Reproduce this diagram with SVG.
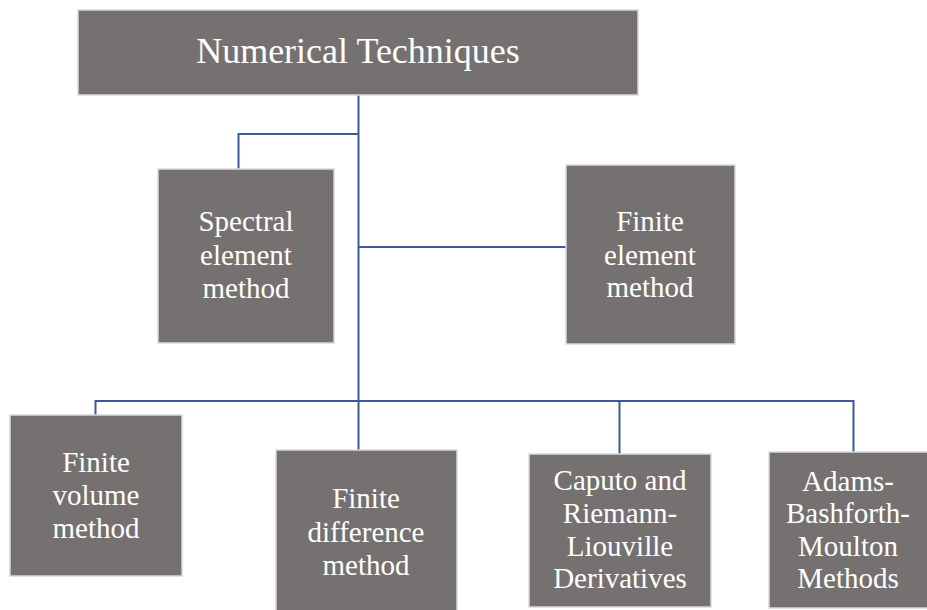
<svg xmlns="http://www.w3.org/2000/svg" width="927" height="610" viewBox="0 0 927 610">
<style>
.box{fill:#767171;stroke:#d9d9d9;stroke-width:1.5}
.t{font-family:"Liberation Serif","Times New Roman",serif;fill:#ffffff;text-anchor:middle;font-size:29px}
.title{font-size:36px}
.c{fill:none;stroke:#3a5b9b;stroke-width:2}
</style>
<rect width="927" height="610" fill="#ffffff"/>
<g id="connectors">
<path class="c" d="M358.5 95 V401"/>
<path class="c" d="M358.5 134 H238.5 V169"/>
<path class="c" d="M358.5 247 H566"/>
<path class="c" d="M95.5 415 V401 H853.5 V452"/>
<path class="c" d="M358.5 401 V450"/>
<path class="c" d="M619.5 401 V454"/>
</g>
<g id="n-root">
<rect class="box" x="78" y="10" width="560" height="85"/>
<text class="t title" x="358" y="63">Numerical Techniques</text>
</g>
<g id="n-spectral">
<rect class="box" x="158" y="169" width="176" height="174"/>
<text class="t" x="246" y="231">Spectral</text>
<text class="t" x="246" y="265">element</text>
<text class="t" x="246" y="298">method</text>
</g>
<g id="n-fem">
<rect class="box" x="566" y="165" width="169" height="179"/>
<text class="t" x="650" y="231">Finite</text>
<text class="t" x="650" y="265">element</text>
<text class="t" x="650" y="297">method</text>
</g>
<g id="n-fvm">
<rect class="box" x="10" y="415" width="172" height="161"/>
<text class="t" x="96" y="472">Finite</text>
<text class="t" x="96" y="505">volume</text>
<text class="t" x="96" y="538">method</text>
</g>
<g id="n-fdm">
<rect class="box" x="276" y="450" width="181" height="165"/>
<text class="t" x="366" y="508">Finite</text>
<text class="t" x="366" y="542">difference</text>
<text class="t" x="366" y="575">method</text>
</g>
<g id="n-caputo">
<rect class="box" x="529" y="454" width="182" height="153"/>
<text class="t" x="620" y="490">Caputo and</text>
<text class="t" x="620" y="523">Riemann-</text>
<text class="t" x="620" y="556">Liouville</text>
<text class="t" x="620" y="588">Derivatives</text>
</g>
<g id="n-abm">
<rect class="box" x="769" y="452" width="162" height="156"/>
<text class="t" x="848" y="491">Adams-</text>
<text class="t" x="848" y="523">Bashforth-</text>
<text class="t" x="848" y="556">Moulton</text>
<text class="t" x="848" y="588">Methods</text>
</g>
</svg>
